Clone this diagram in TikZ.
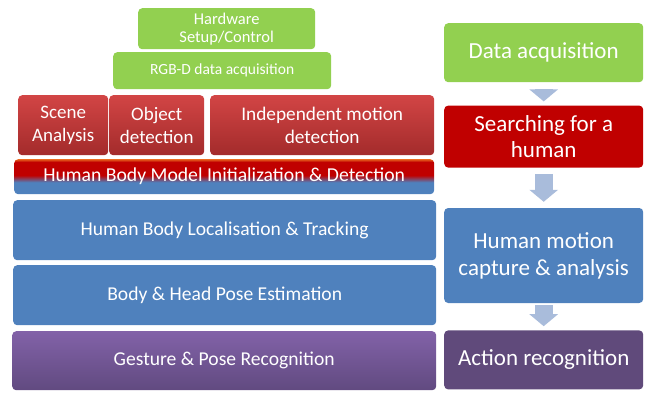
\documentclass[tikz,border=0pt]{standalone}
\usepackage{fontspec}
\setmainfont{Carlito}
\usepackage{tikz}
\usetikzlibrary{positioning, arrows.meta}

\definecolor{accgreen}{HTML}{92D050}
\definecolor{accred}{HTML}{C00000}
\definecolor{redtop}{HTML}{D24545}
\definecolor{redbot}{HTML}{A32B2B}
\definecolor{accblue}{HTML}{4F81BD}
\definecolor{purptop}{HTML}{8262A8}
\definecolor{purpbot}{HTML}{614A80}
\definecolor{accpurp}{HTML}{604A7B}
\definecolor{arrblue}{HTML}{A9BCDB}
\definecolor{hmorange}{HTML}{E8641E}
\pgfdeclareverticalshading{hbmshade}{100bp}{color(0bp)=(accblue); color(42bp)=(accblue); color(52bp)=(accred); color(71bp)=(accred); color(75bp)=(hmorange); color(100bp)=(hmorange)}

\tikzset{
  box/.style={rounded corners=4pt, inner sep=0pt, anchor=north west, align=center, text=white},
  greenbox/.style={box, fill=accgreen},
  redbox/.style={box, top color=redtop, bottom color=redbot},
  bluebox/.style={box, fill=accblue},
  purpbox/.style={box, top color=purptop, bottom color=purpbot},
  stagebox/.style={rounded corners=4pt, inner sep=0pt, align=center, text=white, minimum width=199pt, font=\fontsize{23}{25.5}\selectfont},
  blockarr/.style={line width=18pt, arrblue, -{Triangle[length=12pt, width=28pt]}}
}

\begin{document}
\begin{tikzpicture}[x=1pt, y=-1pt]
  \useasboundingbox (0,0) rectangle (645,392);
  % left stack
  \node[greenbox, minimum width=177pt, minimum height=41pt, font=\fontsize{16.5}{18}\selectfont] (hw) at (138,8) {Hardware\\Setup/Control};
  \node[greenbox, minimum width=218pt, minimum height=37pt, font=\fontsize{15.5}{18}\selectfont] (rgbd) at (113,52) {RGB-D data acquisition};
  \node[redbox, minimum width=90pt, minimum height=60pt, font=\fontsize{19}{23}\selectfont] (scene) at (18,95) {Scene\\Analysis};
  \node[redbox, minimum width=95pt, minimum height=60pt, font=\fontsize{19}{23}\selectfont] (obj) at (109,95) {Object\\detection};
  \node[redbox, minimum width=224pt, minimum height=60pt, font=\fontsize{19.3}{23}\selectfont] (indep) at (210,95) {Independent motion\\detection};
  \node[box, shading=hbmshade, minimum width=420pt, minimum height=35pt, font=\fontsize{19.7}{22}\selectfont] (hbm) at (14,159) {Human Body Model Initialization \& Detection};
  \node[bluebox, minimum width=423pt, minimum height=60pt, font=\fontsize{19.6}{22}\selectfont] (track) at (13,200) {Human Body Localisation \& Tracking};
  \node[bluebox, minimum width=423pt, minimum height=60pt, font=\fontsize{19.6}{22}\selectfont] (pose) at (13,265) {Body \& Head Pose Estimation};
  \node[purpbox, minimum width=424pt, minimum height=59pt, font=\fontsize{19.6}{22}\selectfont] (gest) at (12,331) {Gesture \& Pose Recognition};

  % right stages
  \node[stagebox, fill=accgreen, minimum height=59pt, anchor=north west] (daq) at (444,23) {Data acquisition};
  \node[stagebox, fill=accred, minimum height=62pt, below=23pt of daq] (search) {Searching for a\\human};
  \node[stagebox, fill=accblue, minimum height=95pt, below=40pt of search, font=\fontsize{23}{27}\selectfont] (motion) {Human motion\\capture \& analysis};
  \node[stagebox, fill=accpurp, minimum height=59pt, below=27pt of motion] (action) {Action recognition};

  \draw[blockarr, shorten <=7pt, shorten >=4pt] (daq) -- (search);
  \draw[blockarr, shorten <=6pt, shorten >=6pt] (search) -- (motion);
  \draw[blockarr, shorten <=2pt, shorten >=4pt] (motion) -- (action);
\end{tikzpicture}
\end{document}
